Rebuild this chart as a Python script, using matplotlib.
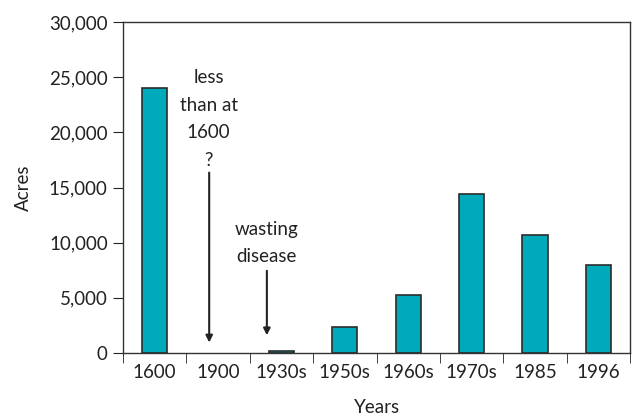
import numpy as np
import matplotlib.pyplot as plt
from matplotlib.ticker import FuncFormatter, FixedLocator

years = ["1600", "1900", "1930s", "1950s", "1960s", "1970s", "1985", "1996"]
acres = [24000, 0, 200, 2400, 5300, 14400, 10700, 8000]

plt.rcParams["font.family"] = ["Lato", "DejaVu Sans"]

fig = plt.figure(figsize=(6.36, 4.18), dpi=100)
ax = fig.add_axes([123 / 636, 1 - 353 / 418, (630 - 123) / 636, (353 - 22) / 418])

x = np.arange(len(years))
# no outline for the empty 1900 bar
lws = [1.2 if v > 0 else 0 for v in acres]
ax.bar(x, acres, width=0.4, color="#00AABB", edgecolor="#2b2b2b", linewidth=lws)

ax.set_xlim(-0.5, len(years) - 0.5)
ax.set_ylim(0, 30000)
ax.set_yticks(range(0, 30001, 5000))
ax.yaxis.set_major_formatter(FuncFormatter(lambda v, p: f"{int(v):,}"))

# category labels centred, ticks on the boundaries
ax.set_xticks(x)
ax.set_xticklabels(years)
ax.xaxis.set_minor_locator(FixedLocator(np.arange(-0.5, len(years), 1.0)))
ax.tick_params(axis="x", which="major", length=0, pad=8, labelsize=13.5, colors="#222222")
ax.tick_params(axis="x", which="minor", length=7, direction="out", color="#222222")
ax.tick_params(axis="y", length=7, direction="out", pad=4, labelsize=13.5, colors="#222222")

for s in ax.spines.values():
    s.set_color("#333333")
    s.set_linewidth(1.0)

ax.set_ylabel("Acres", fontsize=13.5, color="#222222", labelpad=12)
ax.set_xlabel("Years", fontsize=13.5, color="#222222", labelpad=13)

ax.text(0.85, 25700, "less\nthan at\n1600\n?", ha="center", va="top",
        fontsize=13.5, color="#222222", linespacing=1.75)
ax.annotate("", xy=(0.86, 700), xytext=(0.86, 16600),
            arrowprops=dict(arrowstyle="-|>", color="#222222", lw=1.5, mutation_scale=10))

ax.text(1.77, 12000, "wasting\ndisease", ha="center", va="top",
        fontsize=13.5, color="#222222", linespacing=1.75)
ax.annotate("", xy=(1.77, 1350), xytext=(1.77, 7700),
            arrowprops=dict(arrowstyle="-|>", color="#222222", lw=1.5, mutation_scale=10))

fig.savefig("out.png", dpi=100)
